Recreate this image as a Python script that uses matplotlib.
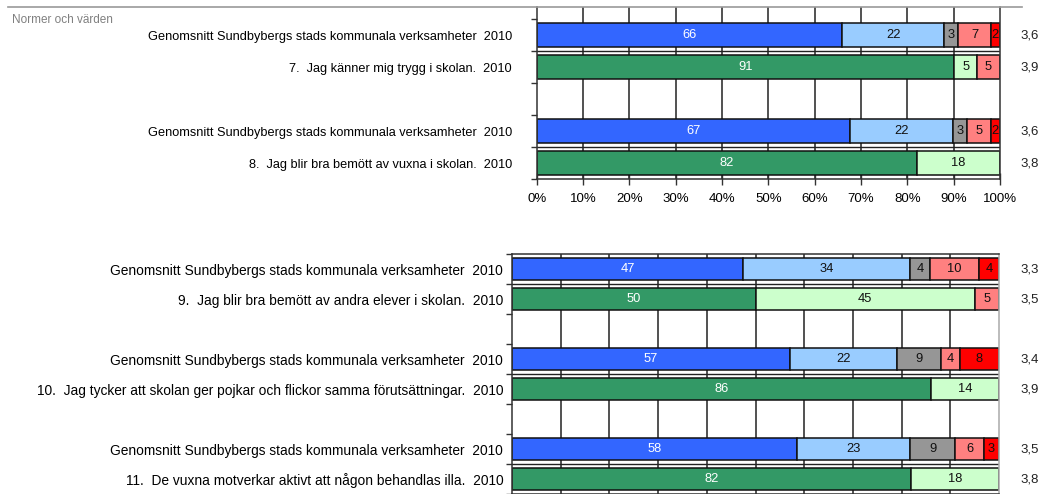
import numpy as np
import matplotlib
matplotlib.use("Agg")
import matplotlib.pyplot as plt
import matplotlib.transforms as mtransforms

plt.rcParams['font.family'] = ['Liberation Sans', 'DejaVu Sans']

# Data -----------------------------------------------------------------
AVG = "Genomsnitt Sundbybergs stads kommunala verksamheter  2010"

top_labels = [AVG, "7.  Jag känner mig trygg i skolan.  2010", "",
              AVG, "8.  Jag blir bra bemött av vuxna i skolan.  2010"]
top_values = [[66, 22, 3, 7, 2], [91, 5, 0, 5, 0], None,
              [67, 22, 3, 5, 2], [82, 18, 0, 0, 0]]
top_means = ["3,6", "3,9", "", "3,6", "3,8"]

bottom_labels = [AVG, "9.  Jag blir bra bemött av andra elever i skolan.  2010", "",
                 AVG, "10.  Jag tycker att skolan ger pojkar och flickor samma förutsättningar.  2010", "",
                 AVG, "11.  De vuxna motverkar aktivt att någon behandlas illa.  2010"]
bottom_values = [[47, 34, 4, 10, 4], [50, 45, 0, 5, 0], None,
                 [57, 22, 9, 4, 8], [86, 14, 0, 0, 0], None,
                 [58, 23, 9, 6, 3], [82, 18, 0, 0, 0]]
bottom_means = ["3,3", "3,5", "", "3,4", "3,9", "", "3,5", "3,8"]

avg_colors = ['#3366FF', '#99CCFF', '#969696', '#FF8080', '#FF0000']
q_colors = ['#339966', '#CCFFCC', '#969696', '#FF8080', '#FF0000']
light_text = ['white', '#111111', '#111111', '#111111', '#111111']

W, H = 1041, 494
fig = plt.figure(figsize=(W / 100, H / 100), dpi=100)


def draw_panel(ax, labels, values, means, top_pad, label_pad, label_size):
    n = len(labels)
    ax.set_xlim(0, 100)
    ax.set_ylim(n - 0.5, -0.5 - top_pad)
    for x in range(10, 100, 10):
        ax.axvline(x, color='#222222', lw=1.1, zorder=0)
    for i, row in enumerate(values):
        if row is None:
            continue
        # horizontal separator between the paired bars
        if labels[i] == AVG:
            ax.axhline(i + 0.5, color='#222222', lw=1.0, zorder=0.5)
        colors = avg_colors if labels[i] == AVG else q_colors
        total = float(sum(row))
        left = 0.0
        for k, v in enumerate(row):
            if v == 0:
                continue
            w = v / total * 100
            ax.barh(i, w, left=left, height=0.74, color=colors[k],
                    edgecolor='#111111', linewidth=1.1, zorder=2)
            ax.text(left + w / 2, i, str(v), ha='center', va='center',
                    fontsize=9.3, color=light_text[k], zorder=3)
            left += w
    ax.set_yticks(range(n))
    ax.set_yticklabels(labels, fontsize=label_size)
    ax.tick_params(axis='y', length=0, pad=label_pad)
    ax.set_yticks(np.arange(-0.5, n, 1.0), minor=True)
    ax.tick_params(axis='y', which='minor', length=4, width=1, color='#333333')
    trans = mtransforms.blended_transform_factory(fig.transFigure, ax.transData)
    for i, m in enumerate(means):
        if m:
            ax.text(1020 / W, i, m, transform=trans, ha='left', va='center',
                    fontsize=9.5, color='#222222')
    for s in ax.spines.values():
        s.set_color('#333333')
        s.set_linewidth(1.1)


# top panel
ax1 = fig.add_axes([536.7 / W, 1 - 179 / H, (1000 - 536.7) / W, 172 / H])
draw_panel(ax1, top_labels, top_values, top_means, 12 / 32, 17.8, 9.2)
ax1.spines['top'].set_visible(False)
ax1.set_xticks(range(0, 101, 10))
ax1.set_xticklabels([f"{t}%" for t in range(0, 101, 10)], fontsize=9.5)
ax1.tick_params(axis='x', direction='inout', length=8, width=1,
                color='#333333', pad=6)

# bottom panel
ax2 = fig.add_axes([512 / W, 0, (999 - 512) / W, 240 / H])
draw_panel(ax2, bottom_labels, bottom_values, bottom_means, 0, 6.3, 9.9)
ax2.set_xticks(range(0, 101, 10))
ax2.tick_params(axis='x', length=0, labelbottom=False)
ax2.spines['right'].set_color('#aaaaaa')

# header
fig.add_artist(plt.Line2D([8 / W, 1022 / W], [1 - 7 / H, 1 - 7 / H],
                          color='#999999', lw=1.2, transform=fig.transFigure))
fig.text(12 / W, 1 - 20 / H, "Normer och värden", fontsize=8.5,
         color='#808080', ha='left', va='center')

fig.savefig("out.png", dpi=100)
